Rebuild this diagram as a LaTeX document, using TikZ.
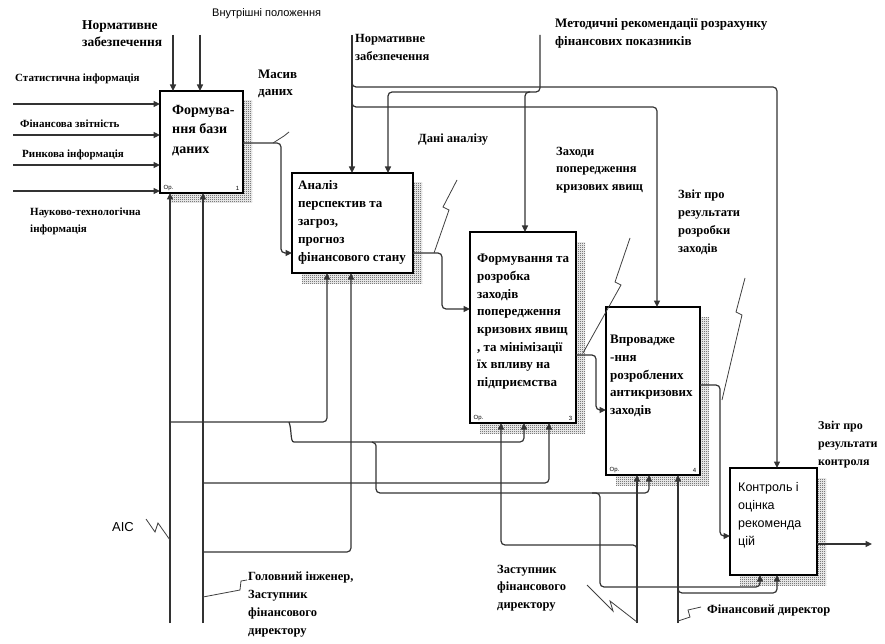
\documentclass[tikz,border=0pt]{standalone}
\usepackage{fontspec}
\setmainfont{Liberation Serif}
\newfontfamily\sansf{Liberation Sans}
\usetikzlibrary{arrows.meta,patterns}
\pgfdeclarepatternformonly{checkdots}{\pgfpointorigin}{\pgfpoint{2pt}{2pt}}{\pgfpoint{2pt}{2pt}}{%
  \pgfpathrectangle{\pgfpointorigin}{\pgfpoint{1pt}{1pt}}%
  \pgfpathrectangle{\pgfpoint{1pt}{1pt}}{\pgfpoint{1pt}{1pt}}%
  \pgfusepath{fill}}
\begin{document}
\begin{tikzpicture}[x=1pt,y=-1pt,
 conn/.style={draw=black!80,line width=1.2pt,rounded corners=4pt},
 arr/.style={conn,-{Triangle[length=6.5pt,width=6pt]}},
 box/.style={draw=black,line width=1.7pt,fill=white,inner sep=0pt,outer sep=0pt,anchor=north west},
 shade/.style={pattern=checkdots,pattern color=black!80},
 lbl/.style={inner sep=0pt,anchor=north west,align=left,font=\bfseries\fontsize{12}{17.5}\selectfont},
 btxt/.style={inner sep=0pt,anchor=north west,align=left,font=\bfseries\fontsize{13}{17.7}\selectfont},
 slbl/.style={inner sep=0pt,anchor=north west,align=left,font=\sansf\fontsize{11}{13}\selectfont},
 tag/.style={inner sep=0.5pt,font=\sansf\fontsize{6}{7}\selectfont},
 sq/.style={draw=black!75,line width=0.8pt}
]
\useasboundingbox (0,0) rectangle (885,644);
\fill[white] (0,0) rectangle (885,644);

% shadows
\path[shade] (170,101) rectangle (252,203);
\path[shade] (302,183) rectangle (422,283);
\path[shade] (480,242) rectangle (585,433);
\path[shade] (616,317) rectangle (709,485);
\path[shade] (740,478) rectangle (826,585);

% boxes
\node[box,minimum width=83pt,minimum height=102pt] (b1) at (160,91) {};
\node[box,minimum width=121pt,minimum height=100pt] (b2) at (292,173) {};
\node[box,minimum width=106pt,minimum height=191pt] (b3) at (470,232) {};
\node[box,minimum width=94pt,minimum height=168pt] (b4) at (606,307) {};
\node[box,minimum width=87pt,minimum height=107pt] (b5) at (730,468) {};

% box texts
\node[btxt,font=\bfseries\fontsize{14}{19.5}\selectfont] (t1) at (172,105) {Формува-\\ння бази\\даних};
\node[btxt,font=\bfseries\fontsize{13}{18}\selectfont] (t2) at (298,180) {Аналіз\\перспектив та\\загроз,\\прогноз\\фінансового стану};
\node[btxt] (t3) at (477,254) {Формування та\\розробка\\заходів\\попередження\\кризових явищ\\, та мінімізації\\їх впливу на\\підприємства};
\node[btxt] (t4) at (610,335) {Впровадже\\-ння\\розроблених\\антикризових\\заходів};
\node[slbl,font=\sansf\fontsize{12.5}{18}\selectfont] (t5) at (738,482) {Контроль і\\оцінка\\рекоменда\\цій};

% box tags
\node[tag,anchor=south west] (o1) at ([shift={(3,-2)}]b1.south west) {Ор.};
\node[tag,anchor=south east] (n1) at ([shift={(-3,-2)}]b1.south east) {1};
\node[tag,anchor=south west] (o3) at ([shift={(3,-2)}]b3.south west) {Ор.};
\node[tag,anchor=south east] (n3) at ([shift={(-3,-2)}]b3.south east) {3};
\node[tag,anchor=south west] (o4) at ([shift={(3,-2)}]b4.south west) {Ор.};
\node[tag,anchor=south east] (n4) at ([shift={(-3,-2)}]b4.south east) {4};

% free ends
\coordinate (in1) at (13,104);
\coordinate (in2) at (13,135);
\coordinate (in3) at (13,165);
\coordinate (in4) at (13,191);
\coordinate (c1a) at (173,35);
\coordinate (c1b) at (200,35);
\coordinate (c2) at (352,35);
\coordinate (c3) at (540,35);
\coordinate (m1) at (170,623);
\coordinate (m2) at (203,623);
\coordinate (m3) at (637,623);
\coordinate (m4) at (678,623);
\coordinate (out5) at (872,544);

% inputs
\draw[arr] (in1) -- (b1.west |- in1);
\draw[arr] (in2) -- (b1.west |- in2);
\draw[arr] (in3) -- (b1.west |- in3);
\draw[arr] (in4) -- (b1.west |- in4);

% controls
\draw[arr] (c1a) -- (c1a |- b1.north);
\draw[arr] (c1b) -- (c1b |- b1.north);
\draw[arr] (c2) -- (c2 |- b2.north);
\draw[arr] (352,80) -- (352,87) -- (777,87) -- (b5.north -| 777,0);
\draw[arr] (352,100) -- (352,107) -- (657,107) -- (b4.north -| 657,0);
\draw[arr] (c3) -- (540,92) -- (388,92) -- (b2.north -| 388,0);
\draw[arr] (530,92) -- (525,92) -- (b3.north -| 525,0);

% outputs
\draw[arr] (b1.east |- 0,143) -- (281,143) -- (281,253) -- (b2.west |- 0,253);
\draw[arr] (b2.east |- 0,253) -- (442,253) -- (442,309) -- (b3.west |- 0,309);
\draw[arr] (b3.east |- 0,355) -- (596,355) -- (596,410) -- (b4.west |- 0,410);
\draw[arr] (b4.east |- 0,385) -- (720,385) -- (720,536) -- (b5.west |- 0,536);
\draw[arr] (b5.east |- out5) -- (out5);

% mechanisms
\draw[arr] (m1) -- (m1 |- b1.south);
\draw[arr] (m2) -- (m2 |- b1.south);
\draw[arr] (170,422) -- (327,422) -- (b2.south -| 327,0);
\draw[arr] (203,552) -- (351,552) -- (b2.south -| 351,0);
\draw[arr] (289,422) .. controls (292,430) and (290,442) .. (298,442) -- (524,442) -- (b3.south -| 524,0);
\draw[arr] (203,483) -- (549,483) -- (b3.south -| 549,0);
\draw[arr] (372,442) .. controls (376,444) .. (376,452) -- (376,493) -- (649,493) -- (b4.south -| 649,0);
\draw[arr] (592,493) -- (600,493) -- (600,587) -- (760,587) -- (b5.south -| 760,0);
\draw[arr] (m3) -- (m3 |- b4.south);
\draw[arr] (637,552) -- (637,545) -- (501,545) -- (b3.south -| 501,0);
\draw[arr] (m4) -- (m4 |- b4.south);
\draw[arr] (678,588) -- (678,593) -- (777,593) -- (b5.south -| 777,0);

% labels
\node[lbl,font=\bfseries\fontsize{13.5}{17}\selectfont] (l1) at (82,20) {Нормативне\\забезпечення};
\node[slbl] (l2) at (212,8) {Внутрішні положення};
\node[lbl,font=\bfseries\fontsize{11}{17}\selectfont] (l3) at (15,74) {Статистична інформація};
\node[lbl,font=\bfseries\fontsize{11}{17}\selectfont] (l4) at (20,120) {Фінансова звітність};
\node[lbl,font=\bfseries\fontsize{11}{17}\selectfont] (l5) at (22,150) {Ринкова інформація};
\node[lbl,font=\bfseries\fontsize{11}{17}\selectfont] (l6) at (30,208) {Науково-технологічна\\інформація};
\node[lbl,font=\bfseries\fontsize{13}{17}\selectfont] (l7) at (258,70) {Масив\\даних};
\node[lbl,font=\bfseries\fontsize{12.5}{18}\selectfont] (l8) at (355,34) {Нормативне\\забезпечення};
\node[lbl,font=\bfseries\fontsize{13}{18}\selectfont] (l9) at (555,18) {Методичні рекомендації розрахунку\\фінансових показників};
\node[lbl,font=\bfseries\fontsize{12.5}{17.5}\selectfont] (l10) at (418,134) {Дані аналізу};
\node[lbl,font=\bfseries\fontsize{12.5}{17.5}\selectfont] (l11) at (556,147) {Заходи\\попередження\\кризових явищ};
\node[lbl,font=\bfseries\fontsize{12.5}{18}\selectfont] (l12) at (678,190) {Звіт про\\результати\\розробки\\заходів};
\node[lbl,font=\bfseries\fontsize{12}{18}\selectfont] (l13) at (818,421) {Звіт про\\результати\\контроля};
\node[slbl,font=\sansf\fontsize{13}{15}\selectfont] (l14) at (112,522) {AIC};
\node[lbl,font=\bfseries\fontsize{12.5}{18}\selectfont] (l15) at (248,572) {Головний інженер,\\Заступник\\фінансового\\директору};
\node[lbl,font=\bfseries\fontsize{12.5}{17.5}\selectfont] (l16) at (497,565) {Заступник\\фінансового\\директору};
\node[lbl,font=\bfseries\fontsize{12.5}{17.5}\selectfont] (l17) at (707,605) {Фінансовий директор};

% label leaders
\draw[sq] (273,143) -- (284,136) -- (289,132);
\draw[sq] (434,253) -- (449,210) -- (443,207) -- (457,180);
\draw[sq] (583,353) -- (621,285) -- (615,282) -- (630,238);
\draw[sq] (722,400) -- (742,315) -- (736,312) -- (745,278);
\draw[sq] (146,519) -- (155,532) -- (158,523) -- (170,540);
\draw[sq] (203,597) -- (240,590) -- (241,581) -- (247,580);
\draw[sq] (587,585) -- (613,611) -- (610,601) -- (637,622);
\draw[sq] (678,621) -- (690,617) -- (688,610) -- (701,607);
\end{tikzpicture}
\end{document}
